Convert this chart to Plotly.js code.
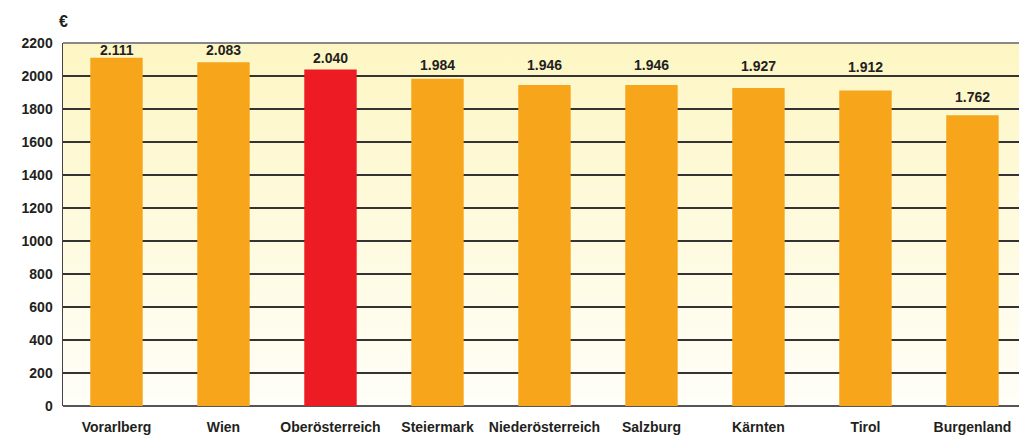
<!DOCTYPE html>
<html>
<head>
<meta charset="utf-8">
<script src="https://cdn.plot.ly/plotly-3.0.1.min.js"></script>
<style>
  html, body { margin: 0; padding: 0; background: #fff; }
  #chart { width: 1019px; height: 435px; }
</style>
</head>
<body>
<div id="chart"></div>
<script>
var regions = ['Vorarlberg', 'Wien', 'Oberösterreich', 'Steiermark', 'Niederösterreich',
               'Salzburg', 'Kärnten', 'Tirol', 'Burgenland'];
var income = [2111, 2083, 2040, 1984, 1946, 1946, 1927, 1912, 1762];
var valueLabels = ['2.111', '2.083', '2.040', '1.984', '1.946', '1.946', '1.927', '1.912', '1.762'];
var highlight = 'Oberösterreich';

// pixel gap between bar top and its value label (labels sit between gridlines)
var labelGap = [1, 5, 4, 7, 13, 13, 15, 17, 11];

var barColors = regions.map(function (r) {
    return r === highlight ? '#ED1C24' : '#F7A51B';
});

var font = 'Liberation Sans Narrow, Arial Narrow, Liberation Sans, sans-serif';
var ink = '#231F20';

// yellow-to-white background behind the plot
var bgSvg = '<svg xmlns="http://www.w3.org/2000/svg" width="10" height="100" preserveAspectRatio="none">' +
    '<defs><linearGradient id="g" x1="0" y1="0" x2="0" y2="1">' +
    '<stop offset="0" stop-color="#FDF6C3"/><stop offset="1" stop-color="#FFFEF8"/>' +
    '</linearGradient></defs><rect width="10" height="100" fill="url(#g)"/></svg>';

var trace = {
    x: regions,
    y: income,
    type: 'bar',
    marker: { color: barColors },
    hoverinfo: 'x+y'
};

var annotations = regions.map(function (r, i) {
    return {
        x: r, y: income[i],
        xref: 'x', yref: 'y',
        text: valueLabels[i],
        showarrow: false,
        xanchor: 'center', yanchor: 'bottom',
        yshift: labelGap[i] - 3,
        font: { family: font, size: 14, color: ink, weight: 'bold' }
    };
});

annotations.push({
    text: '€',
    xref: 'paper', yref: 'paper',
    x: 0, y: 1.058,
    xanchor: 'center', yanchor: 'middle',
    showarrow: false,
    font: { family: font, size: 16, color: ink, weight: 'bold' }
});

var layout = {
    width: 1019,
    height: 435,
    margin: { l: 63, r: 0, t: 43, b: 29 },
    paper_bgcolor: '#ffffff',
    plot_bgcolor: 'rgba(0,0,0,0)',
    bargap: 0.51,
    showlegend: false,
    xaxis: {
        range: [-0.5, 8.435],
        showgrid: false,
        zeroline: false,
        showline: false,
        ticks: '',
        tickfont: { family: font, size: 14, color: ink, weight: 'bold' },
        ticklabelstandoff: 11
    },
    yaxis: {
        range: [0, 2200],
        dtick: 200,
        tickformat: 'd',
        showgrid: true,
        gridcolor: '#333333',
        gridwidth: 1.3,
        zeroline: true,
        zerolinecolor: '#555555',
        zerolinewidth: 2,
        showline: true,
        linecolor: '#444444',
        linewidth: 1.5,
        ticks: '',
        tickfont: { family: font, size: 14, color: ink, weight: 'bold' },
        ticklabelstandoff: 6
    },
    shapes: [{
        type: 'line', xref: 'paper', yref: 'paper',
        x0: 0, x1: 1, y0: 1, y1: 1,
        line: { color: '#888888', width: 2 }
    }],
    images: [{
        source: 'data:image/svg+xml;charset=utf-8,' + encodeURIComponent(bgSvg),
        xref: 'paper', yref: 'paper',
        x: 0, y: 1, sizex: 1, sizey: 1,
        xanchor: 'left', yanchor: 'top',
        sizing: 'stretch', layer: 'below'
    }],
    annotations: annotations
};

Plotly.newPlot('chart', [trace], layout, { displayModeBar: false, staticPlot: true });
</script>
</body>
</html>
